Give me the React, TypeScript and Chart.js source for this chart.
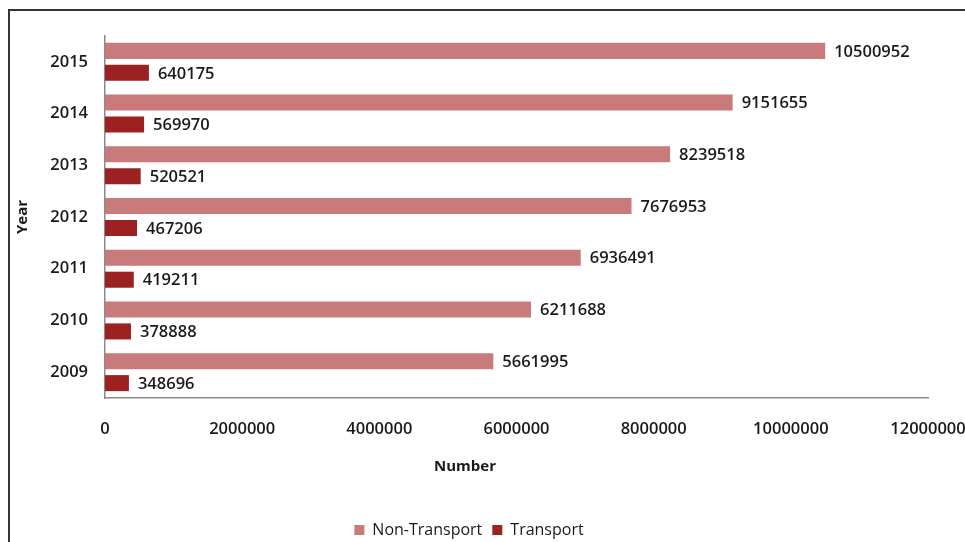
import React, { useEffect, useRef } from "react";
import { Chart, registerables } from "chart.js";

Chart.register(...registerables);

const years = ["2015", "2014", "2013", "2012", "2011", "2010", "2009"];
const nonTransport = [10500952, 9151655, 8239518, 7676953, 6936491, 6211688, 5661995];
const transport = [640175, 569970, 520521, 467206, 419211, 378888, 348696];
const seriesNames = ["Non-Transport", "Transport"];
const seriesColors = ["#C97B7B", "#9C2121"];
const xTitle = "Number";
const yTitle = "Year";

const FONT = "'Open Sans', 'DejaVu Sans', sans-serif";

const framePlugin = {
  id: "frame",
  beforeDraw(chart: any) {
    const ctx = chart.ctx;
    ctx.save();
    ctx.fillStyle = "#ffffff";
    ctx.fillRect(0, 0, chart.width, chart.height);
    ctx.strokeStyle = "#333333";
    ctx.lineWidth = 2;
    ctx.strokeRect(9, 10, chart.width + 20, chart.height + 20);
    ctx.restore();
  },
};

const labelPlugin = {
  id: "valueLabels",
  afterDatasetsDraw(chart: any) {
    const ctx = chart.ctx;
    ctx.save();
    ctx.font = `600 16.5px ${FONT}`;
    ctx.fillStyle = "#1a1a1a";
    ctx.textAlign = "left";
    ctx.textBaseline = "middle";
    chart.data.datasets.forEach((ds: any, di: number) => {
      const meta = chart.getDatasetMeta(di);
      meta.data.forEach((el: any, i: number) => {
        ctx.fillText(String(ds.data[i]), el.x + 9, el.y + 1);
      });
    });
    // x-axis title (offset to the left as in the original)
    ctx.font = `bold 15px ${FONT}`;
    ctx.textAlign = "center";
    ctx.fillText(xTitle, 465, 467);
    ctx.restore();
  },
};

export default function App() {
  const ref = useRef<HTMLCanvasElement>(null);
  useEffect(() => {
    if (!ref.current) return;
    const chart = new Chart(ref.current, {
      type: "bar",
      data: {
        labels: years,
        datasets: [
          {
            label: seriesNames[0],
            data: nonTransport,
            backgroundColor: seriesColors[0],
            borderWidth: 0,
            categoryPercentage: 0.85,
            barPercentage: 0.73,
          },
          {
            label: seriesNames[1],
            data: transport,
            backgroundColor: seriesColors[1],
            borderWidth: 0,
            categoryPercentage: 0.85,
            barPercentage: 0.73,
          },
        ],
      },
      options: {
        indexAxis: "y",
        animation: false,
        responsive: true,
        maintainAspectRatio: false,
        layout: { padding: { left: 10, right: 37, top: 36, bottom: 0 } },
        plugins: {
          legend: {
            position: "bottom",
            labels: {
              boxWidth: 10,
              boxHeight: 10,
              padding: 10,
              color: "#1a1a1a",
              font: { family: FONT, size: 16 },
            },
          },
          tooltip: { enabled: false },
        },
        scales: {
          x: {
            min: 0,
            max: 12000000,
            grid: { display: false, drawTicks: false },
            border: { display: true, color: "#8a8a8a", width: 1.5 },
            ticks: {
              stepSize: 2000000,
              padding: 21,
              color: "#1a1a1a",
              font: { family: FONT, size: 16.5, weight: "600" },
              callback: (v: any) => String(v),
              maxRotation: 0,
            },
            title: { display: false },
            afterFit: (s: any) => {
              s.height = 114;
              s.paddingLeft = 0;
              s.paddingRight = 0;
            },
          },
          y: {
            grid: { display: false, drawTicks: false },
            border: { display: true, color: "#8a8a8a", width: 1.5 },
            ticks: {
              padding: 17,
              color: "#1a1a1a",
              font: { family: FONT, size: 16.5, weight: "600" },
            },
            title: {
              display: true,
              text: yTitle,
              color: "#1a1a1a",
              font: { family: FONT, size: 15, weight: "bold" },
              padding: { top: 4, bottom: 4 },
            },
            afterFit: (s: any) => {
              s.width = 95;
            },
          },
        },
      },
      plugins: [framePlugin, labelPlugin],
    });
    return () => chart.destroy();
  }, []);
  return (
    <div style={{ position: "fixed", left: 0, top: 0, width: 965, height: 548 }}>
      <canvas ref={ref} />
    </div>
  );
}
